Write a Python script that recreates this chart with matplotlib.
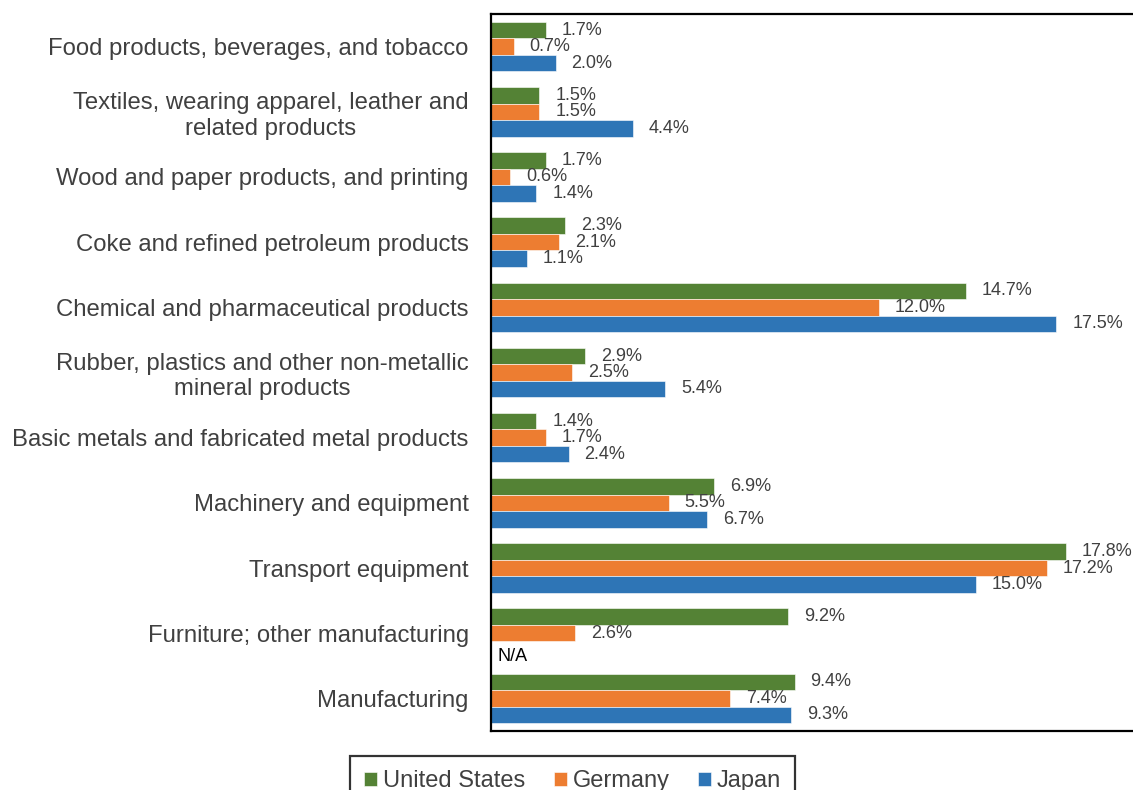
import matplotlib.pyplot as plt
import numpy as np

plt.rcParams['font.family'] = ['Liberation Sans', 'DejaVu Sans']

# industry categories, top to bottom
categories = ['Food products, beverages, and tobacco',
	'Textiles, wearing apparel, leather and\nrelated products',
	'Wood and paper products, and printing',
	'Coke and refined petroleum products',
	'Chemical and pharmaceutical products',
	'Rubber, plastics and other non-metallic\nmineral products',
	'Basic metals and fabricated metal products',
	'Machinery and equipment',
	'Transport equipment',
	'Furniture; other manufacturing',
	'Manufacturing']

us = [1.7, 1.5, 1.7, 2.3, 14.7, 2.9, 1.4, 6.9, 17.8, 9.2, 9.4]
germany = [0.7, 1.5, 0.6, 2.1, 12.0, 2.5, 1.7, 5.5, 17.2, 2.6, 7.4]
japan = [2.0, 4.4, 1.4, 1.1, 17.5, 5.4, 2.4, 6.7, 15.0, None, 9.3]

series = [('United States', us, '#548235'),
	('Germany', germany, '#ED7D31'),
	('Japan', japan, '#2E75B6')]

fig = plt.figure(figsize=(11.33, 7.90), dpi=100)
# right edge of the frame sits just past the figure border
ax = fig.add_axes([491/1133, 59/790, 646/1133, 717/790])

y = np.arange(len(categories))
h = 0.253
for k, (name, vals, col) in enumerate(series):
	yy = y + (k - 1) * h
	for i, v in enumerate(vals):
		if v is None:
			ax.text(0.2, yy[i] + 0.1, 'N/A', va='center', ha='left', fontsize=13, color='black')
			continue
		ax.barh(yy[i], v, height=h, color=col, edgecolor='white', linewidth=0.4,
			label=name if i == 0 else None)
		ax.annotate('%.1f%%' % v, (v, yy[i]), xytext=(11.5, 0), textcoords='offset points',
			va='center', ha='left', fontsize=13, color='#404040')

ax.set_xlim(0, 20)
ax.set_ylim(len(categories) - 0.5, -0.5)
ax.set_yticks(y)
ax.set_yticklabels(categories, fontsize=17.2, color='#404040', multialignment='center')
ax.tick_params(axis='y', length=0, pad=16)
ax.set_xticks([])
for s in ax.spines.values():
	s.set_linewidth(1.6)
	s.set_color('black')

fig.legend(loc='upper left', bbox_to_anchor=(350/1133, 1 - 756/790), ncol=3,
	fontsize=17, frameon=True, fancybox=False, edgecolor='black',
	handlelength=0.55, handleheight=0.55, handletextpad=0.25, columnspacing=1.2,
	borderpad=0.6, borderaxespad=0, labelcolor='#404040').get_frame().set_linewidth(1.6)

plt.savefig('out.png', dpi=100)
